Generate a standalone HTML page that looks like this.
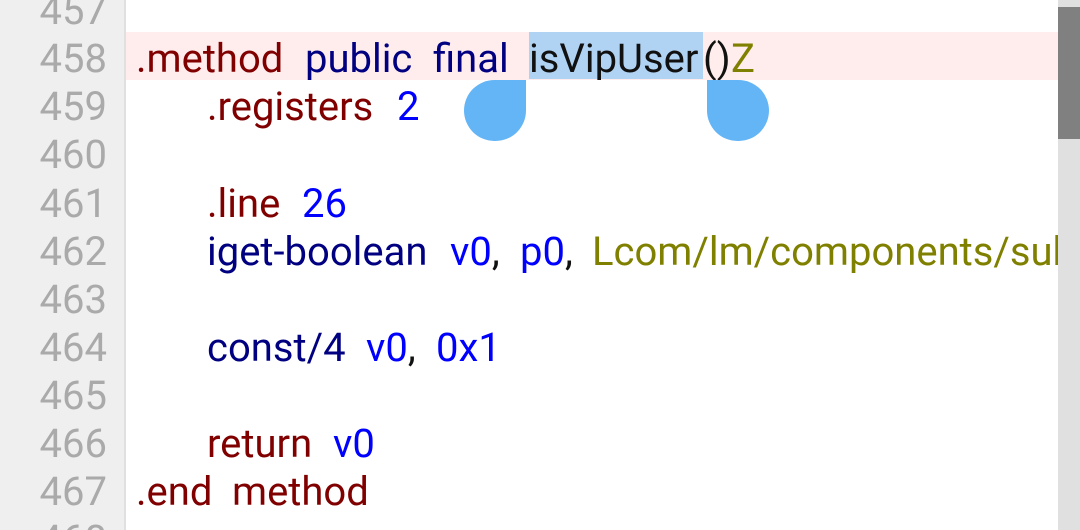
<!DOCTYPE html>
<html><head><meta charset="utf-8"><style>
html,body{margin:0;padding:0;width:1080px;height:530px;overflow:hidden;background:#fff;}
body{position:relative;font-family:"Roboto","Liberation Sans",sans-serif;font-size:40px;}
#gutter{position:absolute;left:0;top:0;width:124px;height:530px;background:#efefef;border-right:2px solid #e0e0e0;overflow:hidden;}
.ln{position:absolute;right:0;width:107px;text-align:right;color:#aaa;height:48px;line-height:48px;margin-top:3px;}
.t{position:absolute;height:48px;line-height:48px;white-space:nowrap;margin-top:3px;}
.r{color:#800000}.n{color:#000080}.b{color:#0000ff}.o{color:#808000}.k{color:#111}
#hl{position:absolute;left:126px;top:32px;width:932px;height:48px;background:#ffeced;}
#sel{position:absolute;left:529px;top:32px;width:174px;height:47px;background:#b1d3f3;}
#sb{position:absolute;left:1058px;top:0;width:22px;height:530px;background:#e0e0e0;}
#th{position:absolute;left:1058px;top:7px;width:22px;height:132px;background:#808080;}
.h{position:absolute;top:80px;width:62px;height:61px;background:#64b5f6;}
</style></head><body>
<div id="hl"></div><div id="sel"></div>
<div id="gutter">
<div class="ln" style="top:-16px;left:0">457</div>
<div class="ln" style="top:32px;left:0">458</div>
<div class="ln" style="top:80px;left:0">459</div>
<div class="ln" style="top:128px;left:0">460</div>
<div class="ln" style="top:177px;left:0">461</div>
<div class="ln" style="top:225px;left:0">462</div>
<div class="ln" style="top:273px;left:0">463</div>
<div class="ln" style="top:321px;left:0">464</div>
<div class="ln" style="top:369px;left:0">465</div>
<div class="ln" style="top:417px;left:0">466</div>
<div class="ln" style="top:465px;left:0">467</div>
<div class="ln" style="top:513px;left:0;height:14px;overflow:hidden">468</div>
</div>
<div class="t r" style="left:136px;top:32px">.method</div>
<div class="t n" style="left:305px;top:32px">public</div>
<div class="t n" style="left:433px;top:32px">final</div>
<div class="t k" style="left:529px;top:32px">isVipUser</div>
<div class="t k" style="left:703px;top:32px">()</div>
<div class="t o" style="left:731px;top:32px">Z</div>

<div class="t r" style="left:207px;top:80px">.registers</div>
<div class="t b" style="left:397px;top:80px">2</div>

<div class="t r" style="left:207px;top:177px">.line</div>
<div class="t b" style="left:302px;top:177px">26</div>

<div class="t n" style="left:207px;top:225px">iget-boolean</div>
<div class="t b" style="left:450px;top:225px">v0<span class="k">,</span></div>
<div class="t b" style="left:520px;top:225px">p0<span class="k">,</span></div>
<div class="t o" style="left:592px;top:225px">Lcom/lm/components/sub</div>

<div class="t n" style="left:207px;top:321px">const/4</div>
<div class="t b" style="left:366px;top:321px">v0<span class="k">,</span></div>
<div class="t b" style="left:436px;top:321px">0x1</div>

<div class="t r" style="left:207px;top:417px">return</div>
<div class="t b" style="left:333px;top:417px">v0</div>

<div class="t r" style="left:136px;top:465px;height:48px">.end</div>
<div class="t r" style="left:232px;top:465px;height:48px">method</div>

<div class="h" style="left:464px;border-radius:31px 0 31px 31px;"></div>
<div class="h" style="left:707px;border-radius:0 31px 31px 31px;"></div>
<div id="sb"></div><div id="th"></div>
</body></html>
